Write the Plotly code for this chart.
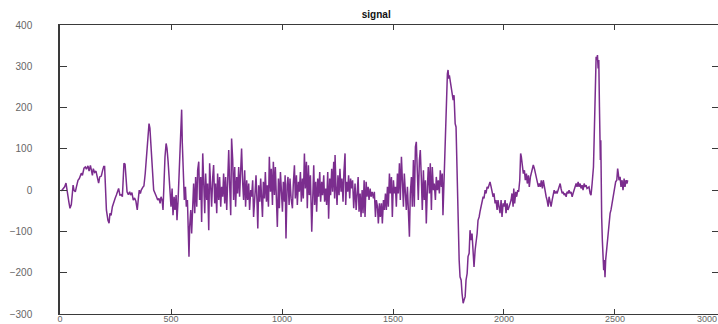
import plotly.graph_objects as go

# Recorded signal, split into the stretches it naturally falls into.
quiet_start_x = [6, 13, 21, 27, 31, 36, 40, 45, 51, 55, 59, 63, 69, 74, 81, 87, 96, 101, 108, 114,
                 119, 126, 131, 137, 141, 146, 150, 156, 162, 168, 174, 179, 186, 192, 197, 201, 204, 209, 216, 221,
                 225, 230, 236, 242, 248, 254, 258, 264, 270, 276, 281, 285, 288, 293, 297, 302, 308, 314, 318, 324,
                 330, 336, 342, 348, 353, 357, 362, 366, 374, 378, 384, 390, 396, 401, 405, 410, 414, 422]
quiet_start_y = [-2, 4, 8, 17, -2, -12, -29, -44, -35, -12, 12, 0, -4, 8, 24, 28, 41, 36, 53, 56,
                 51, 59, 46, 60, 52, 36, 52, 43, 46, 29, 17, 32, 34, 48, 57, 57, 5, -48, -73, -80,
                 -56, -61, -40, -27, -20, -12, -4, 4, -12, -11, -16, 20, 65, 63, 36, -4, -11, -4, -12, -6,
                 -24, -19, -27, -48, -20, 0, -8, 0, 8, 10, 41, 93, 133, 161, 150, 109, 53, 0]

burst_one_x = [436, 440, 446, 451, 455, 460, 464, 469, 473, 478, 482, 487, 491, 496, 500, 505, 509, 514, 518, 523,
               527, 532, 536, 541, 545, 548, 551, 556, 560, 565, 569, 574, 578, 581, 584, 589, 593, 598, 602, 607,
               611, 616, 620, 625, 629, 634, 638, 643, 647, 652, 656, 661, 665, 670, 674, 679, 683, 688, 692, 697,
               701, 706, 710, 715, 719, 724, 728, 733, 737, 742, 746, 751, 755, 760, 764, 769, 773, 778, 782, 787,
               791, 796, 800, 805, 809, 814, 818, 823, 827, 832, 836, 841, 845, 850, 854, 859, 863, 868, 872]
burst_one_y = [-18, -24, -20, -32, -16, -24, -48, 32, 81, 113, 101, 69, 24, -24, -40, 4, -61, -16, -48, -12,
               -73, -24, 24, 97, 121, 195, 113, 56, -24, 8, -40, -24, -89, -161, -89, -48, -105, -24, 16, -56,
               32, -40, 48, 69, -24, 32, -77, 89, 0, -56, 40, -24, 16, -97, 65, -8, -40, 32, 61, -32,
               16, -56, 40, -24, 32, -40, 8, -16, 40, -32, 32, -48, 48, 97, 16, -61, 125, 73, -24, 56,
               -40, 32, -8, 56, -16, 40, 101, 16, -24, 48, -40, 24, -24, 16, -48, 0, -16, 24, -65]

burst_two_x = [879, 883, 888, 891, 895, 900, 904, 909, 912, 916, 921, 925, 930, 934, 939, 943, 948, 952, 957, 961,
               966, 970, 975, 979, 984, 988, 993, 997, 1002, 1006, 1011, 1014, 1018, 1023, 1027, 1032, 1036, 1041, 1047, 1051,
               1056, 1060, 1065, 1069, 1074, 1078, 1083, 1087, 1092, 1096, 1101, 1105, 1110, 1114, 1119, 1123, 1128, 1134, 1138, 1143,
               1147, 1152, 1156, 1161, 1165, 1170, 1174, 1179, 1183, 1188, 1192, 1197, 1201, 1206, 1210, 1215, 1219, 1224, 1228, 1233,
               1237, 1239, 1243, 1248, 1252, 1257, 1261, 1266, 1270, 1275, 1279, 1284, 1287, 1291, 1296, 1300, 1305, 1309, 1314, 1318,
               1323]
burst_two_y = [-4, 36, -36, -93, 12, -28, 28, -44, -65, 20, -20, 44, -28, 12, -40, 81, -4, 52, -36, 69,
               -12, 56, -28, -89, 28, -44, 44, -4, -52, 20, -28, 36, -117, 12, 32, -36, 28, -20, -44, 16,
               60, -20, 36, -36, 20, -4, 44, -28, 28, -20, 89, 4, 69, -44, 60, -12, 36, -101, 12, 60,
               -36, 20, -52, 28, -16, 44, -28, 20, -12, 36, -28, 4, -36, 44, -69, 28, -12, 52, -4, 69,
               -20, 85, 12, -36, 36, -12, 52, -4, 28, -28, 44, 89, -36, 20, -4, 36, -20, 28, 4, 24,
               -44]

burst_three_x = [1329, 1334, 1338, 1343, 1347, 1352, 1356, 1361, 1365, 1370, 1374, 1379, 1383, 1388, 1392, 1397, 1401, 1406, 1412, 1416,
                 1421, 1425, 1430, 1434, 1439, 1443, 1448, 1452, 1457, 1461, 1466, 1470, 1475, 1479, 1484, 1488, 1493, 1497, 1502, 1506,
                 1511, 1515, 1520, 1524, 1529, 1533, 1538, 1542, 1547, 1551, 1556, 1560, 1565, 1569, 1574, 1578, 1583, 1587, 1592, 1596,
                 1601, 1605, 1610, 1614, 1619, 1623, 1628, 1632, 1637, 1641, 1646, 1650, 1655, 1659, 1664, 1668, 1673, 1677, 1682, 1686,
                 1691, 1695, 1700, 1704, 1709, 1713, 1718, 1722, 1725, 1730, 1734, 1737, 1740, 1745, 1748, 1751, 1754]
burst_three_y = [16, -48, 8, 32, -52, -8, -65, 0, -56, 24, -65, 20, -16, 8, -24, 4, -16, -4, -20, -4,
                 -65, -24, -40, -81, -32, -65, -32, -81, -24, -48, -8, -48, 8, -40, 40, -8, 32, -65, 24, -8,
                 8, -40, 40, -8, 65, -24, 81, 8, -40, 40, -16, -48, 8, -73, -113, -8, 32, -40, 73, -40,
                 105, 117, 56, -24, 73, 97, 24, -48, 48, -24, 24, -81, 8, 56, -8, 65, -48, 56, 0, 16,
                 -24, 32, 0, 24, -8, 48, 8, 40, -61, 40, 56, 153, 234, 282, 291, 270, 278]

swing_one_x = [1757, 1762, 1766, 1771, 1775, 1780, 1784, 1787, 1790, 1793, 1798, 1802, 1807, 1811, 1816, 1820, 1825, 1829, 1834, 1838,
               1843, 1847, 1852, 1856, 1861, 1865, 1870, 1874, 1879, 1883, 1888, 1892, 1897, 1901, 1906, 1910, 1915, 1919, 1924, 1928,
               1933, 1937, 1942, 1946, 1951, 1955, 1960, 1964, 1969, 1973, 1978, 1982, 1987, 1991, 1996, 2000, 2005, 2009, 2014, 2018,
               2023, 2027, 2032, 2036, 2041, 2044, 2048, 2053, 2057, 2062, 2066, 2071, 2075, 2078, 2083, 2087, 2092, 2096, 2101, 2105,
               2110, 2114, 2119, 2123, 2128, 2132, 2137, 2141, 2146, 2150, 2155, 2159, 2164, 2168, 2173, 2177, 2182]
swing_one_y = [266, 242, 234, 218, 230, 161, 153, 73, -8, -89, -169, -210, -218, -250, -274, -266, -258, -218, -202, -161,
               -153, -97, -121, -105, -161, -186, -145, -129, -105, -73, -65, -52, -40, -32, -16, -20, 0, -8, 8, 4,
               16, 20, 8, -8, -16, -8, -32, -24, -48, -24, -40, -56, -24, -65, -32, -40, -24, -56, -32, -48,
               -40, -32, -24, -8, -40, 4, -32, -4, -16, 0, -4, 24, 89, 81, 56, 40, 48, 24, 40, 16,
               36, 8, 32, 44, 56, 61, 52, 40, 32, 20, 8, 16, 8, 24, 4, 24, 4]

swing_two_x = [2185, 2190, 2194, 2199, 2203, 2208, 2212, 2217, 2221, 2226, 2230, 2235, 2239, 2244, 2248, 2253, 2257, 2262, 2266, 2271,
               2275, 2280, 2284, 2289, 2293, 2298, 2302, 2307, 2311, 2316, 2320, 2325, 2329, 2334, 2338, 2343, 2347, 2352, 2356, 2361,
               2365, 2370, 2374, 2379, 2383, 2388, 2392, 2397, 2400, 2403, 2406, 2409, 2412, 2415, 2418, 2421, 2424, 2427, 2430, 2431,
               2433, 2434, 2436, 2437, 2440, 2443, 2446, 2449, 2452, 2455, 2458, 2461, 2464, 2467, 2470, 2473, 2478, 2482, 2487, 2491,
               2496, 2500, 2503, 2508, 2512, 2515, 2518, 2523, 2527, 2532, 2536, 2541, 2545, 2550, 2554, 2557]
swing_two_y = [-8, -16, -24, -40, -16, -32, -40, -24, -8, 0, -8, -4, -8, 0, 8, 16, 4, -8, -4, -12,
               -8, -16, -4, -8, 0, -8, -4, -16, -8, 0, 8, 16, 8, 20, 8, 16, 4, 12, 0, 16,
               8, 12, 4, 8, 8, -8, -12, 16, 32, 56, 121, 202, 282, 323, 315, 327, 295, 315, 202, 81,
               129, 73, 121, 40, -65, -121, -161, -194, -169, -211, -169, -153, -129, -121, -97, -73, -56, -48, -32, -16,
               -4, 8, 20, 24, 52, 40, 24, 32, 8, 24, 0, 28, 8, 24, 16, 24]

y_ticks = [-300, -200, -100, 0, 100, 200, 300, 400]
x_ticks = [0, 500, 1000, 1500, 2000, 2500]
x_last_tick = 3000

segments = [
    (quiet_start_x, quiet_start_y),
    (burst_one_x, burst_one_y),
    (burst_two_x, burst_two_y),
    (burst_three_x, burst_three_y),
    (swing_one_x, swing_one_y),
    (swing_two_x, swing_two_y),
]
sample_idx, amplitude = [], []
for sx, sy in segments:
    if len(sx) != len(sy):
        raise ValueError(f"segment length mismatch: {len(sx)} vs {len(sy)}")
    sample_idx += sx
    amplitude += sy

X_MAX = 2964  # visible part of the 0..3000 axis
AXIS = "#3a3a3a"
FONT = "Liberation Sans, Arial, sans-serif"
TICKFONT = dict(family=FONT, size=10, color="#666666")
XTICKFONT = dict(family=FONT, size=9, color="#666666")

fig = go.Figure()
fig.add_trace(go.Scatter(
    x=sample_idx, y=amplitude, mode="lines",
    line=dict(color="#7b2d8e", width=1.5),
    showlegend=False, hoverinfo="skip",
))
# same series on the mirrored right axis (kept transparent) so its ticks render
fig.add_trace(go.Scatter(
    x=sample_idx, y=amplitude, mode="lines", yaxis="y2",
    line=dict(color="rgba(0,0,0,0)", width=0),
    showlegend=False, hoverinfo="skip",
))

fig.update_layout(
    width=718, height=324,
    margin=dict(l=60, r=0, t=25, b=10),
    paper_bgcolor="white", plot_bgcolor="white",
    title=dict(text="<b>signal</b>", x=0.524, xref="container", xanchor="center",
               y=0.955, yref="container", yanchor="middle",
               font=dict(family=FONT, size=10, color="#111111")),
    xaxis=dict(range=[0, X_MAX], tickvals=x_ticks, ticks="inside", ticklen=5, tickcolor=AXIS,
               showline=True, linecolor=AXIS, linewidth=1, mirror="ticks", automargin=False,
               showgrid=False, zeroline=False, tickfont=XTICKFONT, ticklabelstandoff=-4),
    yaxis=dict(range=[-300, 400], tickvals=y_ticks, ticks="inside", ticklen=7, tickcolor=AXIS,
               showline=True, linecolor=AXIS, linewidth=1.5, mirror=False, automargin=False,
               showgrid=False, zeroline=False, tickfont=TICKFONT, ticklabelstandoff=24),
    yaxis2=dict(range=[-300, 400], tickvals=y_ticks, ticks="inside", ticklen=6, tickcolor=AXIS,
                overlaying="y", side="right", anchor="x", showline=False, automargin=False,
                showticklabels=False, showgrid=False, zeroline=False),
    annotations=[dict(text=str(x_last_tick), xref="paper", yref="paper",
                      x=1, xanchor="right", y=0, yanchor="middle",
                      yshift=-5, borderpad=0, showarrow=False, font=XTICKFONT)],
)

fig.write_html("out.html")
